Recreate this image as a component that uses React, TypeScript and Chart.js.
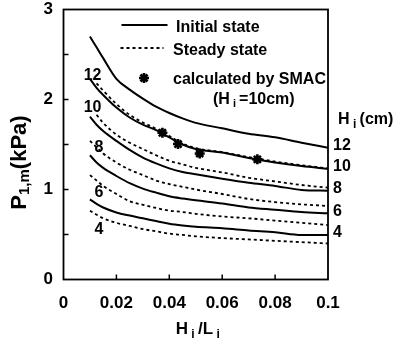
import React, { useEffect, useRef } from "react";
import { Chart, registerables } from "chart.js";

Chart.register(...registerables);

// ---- data ----
const hiLi = [0.01, 0.0125, 0.015, 0.02, 0.025, 0.03, 0.035, 0.04, 0.045, 0.05, 0.06, 0.07, 0.08, 0.09, 0.1];

const initial12 = [2.7, 2.58, 2.46, 2.23, 2.11, 2.01, 1.92, 1.85, 1.79, 1.74, 1.68, 1.62, 1.58, 1.52, 1.465];
const initial10 = [2.23, 2.13, 2.05, 1.91, 1.8, 1.72, 1.66, 1.58, 1.5, 1.45, 1.41, 1.35, 1.3, 1.26, 1.228];
const initial8 = [1.81, 1.72, 1.65, 1.54, 1.44, 1.355, 1.29, 1.235, 1.195, 1.17, 1.12, 1.075, 1.04, 0.995, 0.987];
const initial6 = [1.38, 1.3, 1.24, 1.15, 1.07, 1.01, 0.965, 0.925, 0.9, 0.88, 0.845, 0.8, 0.775, 0.75, 0.735];
const initial4 = [0.89, 0.84, 0.8, 0.745, 0.71, 0.68, 0.65, 0.62, 0.6, 0.585, 0.57, 0.545, 0.525, 0.495, 0.494];

const steady12 = [null, 2.18, 2.1, 1.95, 1.83, 1.745, 1.675, 1.595, 1.51, 1.46, 1.415, 1.36, 1.31, 1.27, 1.235];
const steady10 = [null, 1.83, 1.74, 1.61, 1.52, 1.45, 1.38, 1.32, 1.28, 1.24, 1.19, 1.13, 1.09, 1.05, 1.02];
const steady8 = [1.54, 1.47, 1.4, 1.3, 1.22, 1.16, 1.1, 1.06, 1.03, 1.0, 0.95, 0.895, 0.86, 0.835, 0.817];
const steady6 = [1.16, 1.1, 1.04, 0.95, 0.87, 0.83, 0.795, 0.765, 0.75, 0.73, 0.7, 0.68, 0.655, 0.63, 0.605];
const steady4 = [0.765, 0.72, 0.68, 0.63, 0.595, 0.56, 0.535, 0.51, 0.495, 0.48, 0.46, 0.445, 0.43, 0.415, 0.4];

const smacX = [0.0374, 0.0433, 0.0515, 0.0733];
const smacY = [1.63, 1.505, 1.4, 1.335];

const waveHeights = ["12", "10", "8", "6", "4"];

const xTickValues = [0, 0.02, 0.04, 0.06, 0.08, 0.1];
const xTickLabels = ["0", "0.02", "0.04", "0.06", "0.08", "0.1"];
const yTickValues = [0, 0.5, 1, 1.5, 2, 2.5, 3];
const yTickLabels = ["0", "", "1", "", "2", "", "3"];

const legendLabels = ["Initial state", "Steady state", "calculated by SMAC"];

const FAMILY = "'Liberation Sans', Arial, Helvetica, sans-serif";
const bold = (s: number) => `bold ${s}px ${FAMILY}`;

type Part = [string, boolean];

function drawRich(
  ctx: CanvasRenderingContext2D,
  parts: Part[],
  x: number,
  y: number,
  size: number,
  subSize: number,
  subDy: number,
  align: "left" | "center" = "left"
) {
  let total = 0;
  const widths: number[] = [];
  for (const [t, s] of parts) {
    ctx.font = bold(s ? subSize : size);
    const w = ctx.measureText(t).width;
    widths.push(w);
    total += w;
  }
  let cx = align === "center" ? x - total / 2 : x;
  ctx.textAlign = "left";
  ctx.textBaseline = "middle";
  parts.forEach(([t, s], i) => {
    ctx.font = bold(s ? subSize : size);
    ctx.fillText(t, cx, s ? y + subDy : y);
    cx += widths[i];
  });
}

function drawStar(ctx: CanvasRenderingContext2D, cx: number, cy: number, r: number, w: number) {
  ctx.save();
  ctx.lineWidth = w;
  ctx.strokeStyle = "#000";
  ctx.beginPath();
  for (let k = 0; k < 4; k++) {
    const ang = (k * Math.PI) / 4;
    ctx.moveTo(cx - r * Math.cos(ang), cy - r * Math.sin(ang));
    ctx.lineTo(cx + r * Math.cos(ang), cy + r * Math.sin(ang));
  }
  ctx.stroke();
  ctx.restore();
}

function toPoints(ys: (number | null)[]) {
  return hiLi.map((x, i) => ({ x, y: ys[i] }));
}

const overlayPlugin = {
  id: "overlay",
  afterDatasetsDraw(chart: any) {
    const { ctx, chartArea: a, scales } = chart;
    const xs = scales.x;
    const ys = scales.y;
    ctx.save();
    ctx.fillStyle = "#000";
    ctx.strokeStyle = "#000";

    // frame
    ctx.lineWidth = 1.8;
    ctx.setLineDash([]);
    ctx.strokeRect(a.left, a.top, a.right - a.left, a.bottom - a.top);

    // inward ticks
    ctx.lineWidth = 1.5;
    ctx.beginPath();
    yTickValues.forEach((v) => {
      if (v > 0 && v < 3) {
        const py = ys.getPixelForValue(v);
        ctx.moveTo(a.left, py);
        ctx.lineTo(a.left + 5, py);
      }
    });
    xTickValues.forEach((v) => {
      if (v > 0 && v < 0.1) {
        const px = xs.getPixelForValue(v);
        ctx.moveTo(px, a.bottom);
        ctx.lineTo(px, a.bottom - 5);
      }
    });
    ctx.stroke();

    // legend
    const L = a.left;
    const T = a.top;
    ctx.lineWidth = 2;
    ctx.beginPath();
    ctx.moveTo(L + 58, T + 15.5);
    ctx.lineTo(L + 104, T + 15.5);
    ctx.stroke();
    ctx.lineWidth = 1.8;
    ctx.setLineDash([3, 3]);
    ctx.beginPath();
    ctx.moveTo(L + 57, T + 38.5);
    ctx.lineTo(L + 100, T + 38.5);
    ctx.stroke();
    ctx.setLineDash([]);
    ctx.font = bold(16);
    ctx.textAlign = "left";
    ctx.textBaseline = "middle";
    ctx.fillText(legendLabels[0], L + 112.5, T + 18);
    ctx.fillText(legendLabels[1], L + 109.5, T + 41);
    ctx.fillText(legendLabels[2], L + 109.5, T + 70);
    drawRich(ctx, [["(H", false], [" i ", true], ["=10cm)", false]], L + 149.5, T + 90, 16, 11, 4);
    drawStar(ctx, L + 80.5, T + 68.5, 5, 2.6);

    // left labels (steady-state curves)
    const leftPos: [number, number][] = [
      [0.011, 2.27],
      [0.011, 1.905],
      [0.0134, 1.47],
      [0.0134, 0.97],
      [0.0134, 0.56],
    ];
    ctx.font = bold(16);
    ctx.textAlign = "center";
    ctx.textBaseline = "middle";
    waveHeights.forEach((t, i) => {
      ctx.fillText(t, xs.getPixelForValue(leftPos[i][0]), ys.getPixelForValue(leftPos[i][1]));
    });

    // right labels (initial-state curves)
    const ends = [initial12, initial10, initial8, initial6, initial4].map((s) => s[s.length - 1]);
    ctx.textAlign = "left";
    ctx.font = bold(16);
    waveHeights.forEach((t, i) => {
      ctx.fillText(t, a.right + 5, ys.getPixelForValue(ends[i]) - 2);
    });
    drawRich(ctx, [["H", false], [" i ", true], ["(cm)", false]], a.right + 10, a.top + 110.5, 16, 12, 5);

    // x title
    drawRich(
      ctx,
      [["H", false], [" i ", true], ["/L", false], [" i", true]],
      (a.left + a.right) / 2 + 2,
      a.bottom + 50,
      17,
      12,
      5,
      "center"
    );

    // y title
    ctx.save();
    ctx.translate(20, (a.top + a.bottom) / 2 + 18);
    ctx.rotate(-Math.PI / 2);
    drawRich(ctx, [["P", false], ["1,m", true], ["(kPa)", false]], 0, 0, 22, 15, 5, "center");
    ctx.restore();

    ctx.restore();
  },
};

export default function App() {
  const ref = useRef<HTMLCanvasElement | null>(null);

  useEffect(() => {
    if (!ref.current) return;
    const solid = (label: string, ys: (number | null)[]) => ({
      label,
      data: toPoints(ys),
      borderColor: "#000",
      borderWidth: 2,
      pointRadius: 0,
      fill: false,
      cubicInterpolationMode: "monotone" as const,
    });
    const dotted = (label: string, ys: (number | null)[]) => ({
      label,
      data: toPoints(ys),
      borderColor: "#000",
      borderWidth: 1.8,
      borderDash: [3, 3],
      pointRadius: 0,
      fill: false,
      cubicInterpolationMode: "monotone" as const,
    });

    const chart = new Chart(ref.current, {
      type: "line",
      data: {
        datasets: [
          solid("Initial 12", initial12),
          solid("Initial 10", initial10),
          solid("Initial 8", initial8),
          solid("Initial 6", initial6),
          solid("Initial 4", initial4),
          dotted("Steady 12", steady12),
          dotted("Steady 10", steady10),
          dotted("Steady 8", steady8),
          dotted("Steady 6", steady6),
          dotted("Steady 4", steady4),
          {
            label: "SMAC",
            data: smacX.map((x, i) => ({ x, y: smacY[i] })),
            showLine: false,
            pointStyle: "star",
            pointRadius: 5,
            borderWidth: 2.6,
            borderColor: "#000",
            backgroundColor: "#000",
          },
        ] as any,
      },
      options: {
        animation: false,
        responsive: false,
        devicePixelRatio: 1,
        layout: { padding: { left: 0, top: 9.5, right: 77, bottom: 0 } },
        plugins: { legend: { display: false }, tooltip: { enabled: false } },
        scales: {
          x: {
            type: "linear",
            min: 0,
            max: 0.1,
            afterFit: (s: any) => {
              s.height = 65.5;
              s.paddingLeft = 0;
              s.paddingRight = 0;
            },
            afterBuildTicks: (s: any) => {
              s.ticks = xTickValues.map((v) => ({ value: v }));
            },
            grid: { display: false, drawTicks: false },
            border: { display: false },
            ticks: {
              autoSkip: false,
              maxRotation: 0,
              minRotation: 0,
              padding: 14,
              color: "#000",
              font: { family: FAMILY, size: 17, weight: "bold" },
              callback: (v: any) => {
                const i = xTickValues.findIndex((t) => Math.abs(t - Number(v)) < 1e-9);
                return i >= 0 ? xTickLabels[i] : "";
              },
            },
          },
          y: {
            type: "linear",
            min: 0,
            max: 3,
            afterFit: (s: any) => {
              s.width = 63.5;
              s.paddingTop = 0;
              s.paddingBottom = 0;
            },
            afterBuildTicks: (s: any) => {
              s.ticks = yTickValues.map((v) => ({ value: v }));
            },
            grid: { display: false, drawTicks: false },
            border: { display: false },
            ticks: {
              autoSkip: false,
              padding: 10.5,
              color: "#000",
              font: { family: FAMILY, size: 17, weight: "bold" },
              callback: (v: any) => {
                const i = yTickValues.findIndex((t) => Math.abs(t - Number(v)) < 1e-9);
                return i >= 0 ? yTickLabels[i] : "";
              },
            },
          },
        },
      } as any,
      plugins: [overlayPlugin],
    });
    return () => chart.destroy();
  }, []);

  return (
    <div style={{ position: "fixed", left: 0, top: 0, width: 405, height: 345, background: "#fff" }}>
      <canvas ref={ref} width={405} height={345} style={{ display: "block", width: 405, height: 345 }} />
    </div>
  );
}
